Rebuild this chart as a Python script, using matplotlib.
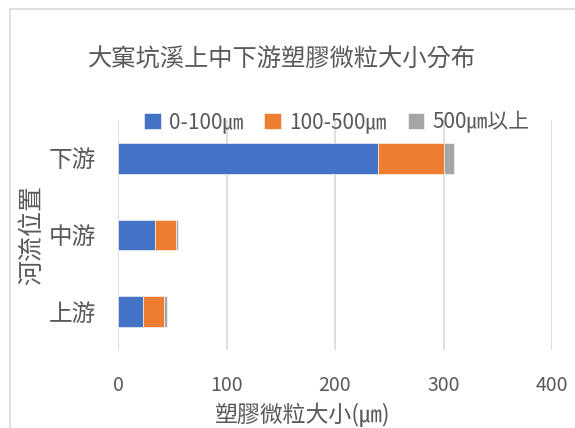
import matplotlib
matplotlib.use("Agg")
import matplotlib.pyplot as plt
from matplotlib.lines import Line2D
import numpy as np

plt.rcParams['font.family'] = ['Noto Sans CJK TC', 'DejaVu Sans']

categories = ["上游", "中游", "下游"]
series_names = ["0-100㎛", "100-500㎛", "500㎛以上"]
small = [23, 34, 240]
medium = [19, 19, 60]
large = [3, 2, 10]
colors = ["#4472C4", "#ED7D31", "#A5A5A5"]
xticks = [0, 100, 200, 300, 400]

W, H = 575, 428
fig = plt.figure(figsize=(W / 100, H / 100), dpi=100)
ax = fig.add_axes([118 / W, 1 - 350 / H, (552 - 118) / W, (350 - 120) / H])

y = np.arange(len(categories))
left = np.zeros(len(categories))
for vals, name, c in zip([small, medium, large], series_names, colors):
    ax.barh(y, vals, left=left, height=0.4, color=c, label=name,
            edgecolor="white", linewidth=0.4, zorder=3)
    left = left + np.array(vals)

ax.set_xlim(0, 400)
ax.set_ylim(-0.5, 2.5)
ax.set_xticks(xticks)
ax.set_xticklabels([str(t) for t in xticks])
ax.set_yticks(y)
ax.set_yticklabels(categories)
ax.grid(axis="x", color="#d9d9d9", linewidth=1.2, zorder=0)
for s in ax.spines.values():
    s.set_visible(False)
ax.tick_params(axis="both", length=0, colors="#595959")
ax.tick_params(axis="x", labelsize=14, pad=18)
ax.tick_params(axis="y", labelsize=17, pad=16)

text_color = "#595959"
ax.set_xlabel("塑膠微粒大小(㎛)", fontsize=16.5, color=text_color)
ax.xaxis.set_label_coords((303 - 118) / 434, -(415 - 350) / 230)
ax.xaxis.label.set_va("center")
ax.set_ylabel("河流位置", fontsize=18, color=text_color)
ax.yaxis.set_label_coords(-(118 - 32) / 434, 0.5)
ax.yaxis.label.set_va("center")
fig.text(282 / W, 1 - 60 / H, "大窠坑溪上中下游塑膠微粒大小分布", ha="center", va="center",
         fontsize=17.5, color=text_color)

leg = fig.legend(loc="center", bbox_to_anchor=(337 / W, 1 - 122 / H), ncol=3,
                 frameon=False, fontsize=15, handlelength=0.8, handleheight=0.8,
                 handletextpad=0.4, columnspacing=1.0, borderaxespad=0)
for t in leg.get_texts():
    t.set_color(text_color)

# chart border
fig.add_artist(Line2D([10 / W, 1], [1 - 9 / H, 1 - 9 / H], transform=fig.transFigure,
                      color="#d9d9d9", linewidth=1.2))
fig.add_artist(Line2D([10 / W, 10 / W], [0, 1 - 9 / H], transform=fig.transFigure,
                      color="#d9d9d9", linewidth=1.2))

fig.savefig("out.png", dpi=100)
